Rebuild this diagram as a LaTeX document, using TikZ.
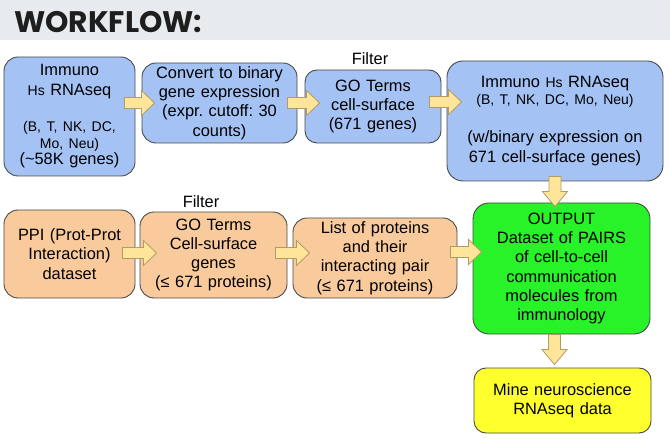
\documentclass[tikz,border=0pt]{standalone}
\usepackage{fontspec}
\setmainfont{Liberation Sans}
\newfontfamily\titlefont{Poppins}
\usetikzlibrary{calc}
\definecolor{boxblue}{HTML}{A4C2F4}
\definecolor{boxorange}{HTML}{F9CB9C}
\definecolor{boxgreen}{RGB}{40,242,40}
\definecolor{boxyellow}{HTML}{FFFF2E}
\definecolor{arrowfill}{HTML}{FFE599}
\definecolor{arrowline}{HTML}{B39B68}
\definecolor{boxline}{HTML}{4A4A4A}
\definecolor{headergray}{HTML}{E8EBED}
\definecolor{titlecol}{HTML}{1E1E1E}
\newcommand\bodyfs{\frenchspacing\fontsize{16.4bp}{19.3bp}\selectfont}
\newcommand\smfs{\fontsize{14bp}{19.3bp}\selectfont}
\newcommand\harr[2]{\filldraw[blockarr] let \p1=(#1), \p2=(#2) in
  (\x1,\y1+5.5bp) -- (\x2-13bp,\y1+5.5bp) -- (\x2-13bp,\y1+12.5bp) -- (\x2,\y1)
  -- (\x2-13bp,\y1-12.5bp) -- (\x2-13bp,\y1-5.5bp) -- (\x1,\y1-5.5bp) -- cycle;}
\newcommand\varr[2]{\filldraw[blockarr] let \p1=(#1), \p2=(#2) in
  (\x1-6bp,\y1) -- (\x1-6bp,\y2+15bp) -- (\x1-12.5bp,\y2+15bp) -- (\x1,\y2)
  -- (\x1+12.5bp,\y2+15bp) -- (\x1+6bp,\y2+15bp) -- (\x1+6bp,\y1) -- cycle;}
\begin{document}
\begin{tikzpicture}[x=1bp,y=-1bp,
  box/.style={draw=boxline, line width=0.9bp, rounded corners=14bp, align=center,
    inner sep=0pt, font=\bodyfs, text=black},
  blockarr/.style={fill=arrowfill, draw=arrowline, line width=0.8bp, line join=miter},
  lbl/.style={font=\bodyfs, text=black, inner sep=0pt}]
\useasboundingbox (0,0) rectangle (670,439);
\fill[headergray] (0,0) rectangle (670,40);
\node[anchor=base west, font=\titlefont\bfseries\fontsize{29.7bp}{30bp}\selectfont,
  text=titlecol, inner sep=0pt] (title) at (14,33) {WORKFLOW:};

\node[box, fill=boxblue, minimum width=131bp, minimum height=119bp, text width=125bp] (b1) at (69.5,116.5)
  {Immuno\\ {\smfs Hs} RNAseq\\[17bp] {\smfs (B, T, NK, DC,}\\[-2.5bp] {\smfs Mo, Neu)}\\[-2.6bp] (\textasciitilde58K genes)};
\node[box, fill=boxblue, minimum width=155bp, minimum height=80bp, text width=150bp] (b2) at (219.5,103)
  {Convert to binary\\ gene expression\\ (expr. cutoff: 30\\ counts)};
\node[box, fill=boxblue, minimum width=136bp, minimum height=73bp, text width=130bp, rounded corners=12bp] (b3) at (373,106.5)
  {GO Terms\\ cell-surface\\ (671 genes)};
\node[box, fill=boxblue, minimum width=216bp, minimum height=120bp, text width=210bp, rounded corners=16bp] (b4) at (555,121)
  {Immuno {\smfs Hs} RNAseq\\[-2.3bp] {\smfs (B, T, NK, DC, Mo, Neu)}\\[18.7bp] (w/binary expression on\\ 671 cell-surface genes)};

\node[box, fill=boxorange, minimum width=131bp, minimum height=88bp, text width=125bp] (b5) at (69.5,254)
  {PPI (Prot-Prot\\ Interaction)\\ dataset};
\node[box, fill=boxorange, minimum width=147bp, minimum height=86bp, text width=141bp] (b6) at (213.5,255)
  {GO Terms\\ Cell-surface\\ genes\\ (≤ 671 proteins)};
\node[box, fill=boxorange, minimum width=164bp, minimum height=80bp, text width=158bp] (b7) at (375,258)
  {List of proteins\\ and their\\ interacting pair\\ (≤ 671 proteins)};
\node[box, fill=boxgreen, minimum width=177bp, minimum height=131bp, text width=171bp, rounded corners=16bp] (b8) at (561.5,268.5)
  {OUTPUT\\ Dataset of PAIRS\\ of cell-to-cell\\ communication\\ molecules from\\ immunology};
\node[box, fill=boxyellow, minimum width=177bp, minimum height=65bp, text width=171bp, rounded corners=12bp] (b9) at (562.5,400.5)
  {Mine neuroscience\\ RNAseq data};

\node[lbl] (f1) at (370,59) {Filter};
\node[lbl] (f2) at (201,202) {Filter};

\coordinate (a1s) at ($(b1.east |- b2.center)+(-11,0)$);
\coordinate (a1e) at ($(b2.west)+(13,0)$);
\coordinate (a2s) at ($(b2.east)+(-10,0)$);
\coordinate (a2e) at ($(b3.west)+(15,0)$);
\coordinate (a3s) at ($(b3.east)+(-12,-4.5)$);
\coordinate (a3e) at ($(b4.west)+(15,0)$);
\coordinate (a4s) at ($(b5.east)+(-13,-1)$);
\coordinate (a4e) at ($(b6.west)+(17,0)$);
\coordinate (a5s) at ($(b6.east)+(-12,-2)$);
\coordinate (a5e) at ($(b7.west)+(17,0)$);
\coordinate (a6s) at ($(b7.east)+(-7,-6)$);
\coordinate (a6e) at ($(b8.west)+(9,0)$);
\coordinate (a7s) at ($(b4.south)+(0,-5)$);
\coordinate (a7e) at ($(b8.north)+(0,4)$);
\coordinate (a8s) at ($(b8.south)+(-7,0)$);
\coordinate (a8e) at ($(b9.north)+(0,-3)$);
\harr{a1s}{a1e}
\harr{a2s}{a2e}
\harr{a3s}{a3e}
\harr{a4s}{a4e}
\harr{a5s}{a5e}
\harr{a6s}{a6e}
\varr{a7s}{a7e}
\varr{a8s}{a8e}
\end{tikzpicture}
\end{document}
